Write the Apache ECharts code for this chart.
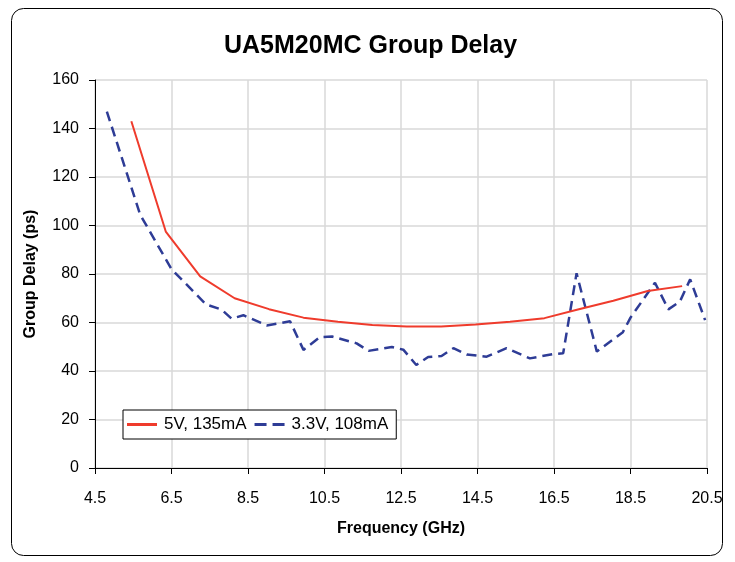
<!DOCTYPE html>
<html>
<head>
<meta charset="utf-8">
<script src="https://cdn.jsdelivr.net/npm/echarts@6/dist/echarts.min.js"></script>
<style>html,body{margin:0;padding:0;background:#fff;}#c{width:735px;height:562px;}</style>
</head>
<body>
<div id="c"></div>
<script>
// Data
const title = 'UA5M20MC Group Delay';
const xName = 'Frequency (GHz)';
const yName = 'Group Delay (ps)';
const seriesNames = ['5V, 135mA', '3.3V, 108mA'];
const xOrigin = 4.5; // first tick label of the frequency axis

const freq5V = [5.45, 6.35, 7.25, 8.15, 9.05, 9.95, 10.85, 11.75, 12.65, 13.55, 14.45, 15.35, 16.25, 17.15, 18.05, 18.95, 19.85];
const delay5V = [143, 97.5, 79, 70, 65.5, 62, 60.3, 59, 58.3, 58.3, 59.2, 60.3, 61.8, 65.5, 69, 73, 75];

const freq33V = [4.81, 5.68, 6.5, 7.4, 7.81, 8.07, 8.38, 8.99, 9.6, 9.95, 10.38, 10.7, 11.34, 11.65, 12.26, 12.56, 12.9, 13.21, 13.56, 13.87, 14.22, 14.74, 15.26, 15.87, 16.48, 16.74, 17.09, 17.62, 18.3, 18.5, 19.14, 19.49, 19.79, 20.06, 20.45];
const delay33V = [147, 104.5, 82, 67.5, 65.3, 61.6, 63, 58.8, 60.5, 48.7, 54, 54.2, 51.4, 48.3, 49.9, 48.8, 42.5, 45.8, 46.2, 49.4, 46.8, 45.9, 49.4, 45.2, 47, 47.3, 80.3, 48, 56, 62, 76.4, 65.4, 68.6, 77.8, 61];

const xTickMin = 0, xTickMax = 16, xTickStep = 2;
const yMin = 0, yMax = 160, yStep = 20;

const pairs = (xs, ys) => xs.map((x, i) => [x - xOrigin, ys[i]]);

const FONT = '"Liberation Sans", Arial, sans-serif';
const RED = '#ef3b2c', BLUE = '#2e3c96';
const chart = echarts.init(document.getElementById('c'), null, {renderer: 'canvas'});
chart.setOption({
  animation: false,
  backgroundColor: '#fff',
  graphic: [{
    type: 'rect', left: 11, top: 8, z: -1,
    shape: {width: 711, height: 547, r: 12},
    style: {fill: '#fff', stroke: '#000', lineWidth: 1}
  }],
  title: {
    text: title, left: 219, top: 29,
    textStyle: {fontFamily: FONT, fontSize: 25, fontWeight: 'bold', color: '#000'}
  },
  legend: {
    left: 123, top: 410,
    orient: 'horizontal',
    backgroundColor: '#fff',
    borderColor: '#000', borderWidth: 1, borderRadius: 0,
    padding: [6, 8, 6, 4],
    itemWidth: 30, itemHeight: 3, itemGap: 8,
    textStyle: {fontFamily: FONT, fontSize: 17, color: '#000', padding: [0, 0, 0, 2]},
    data: [
      {name: seriesNames[0], icon: 'path://M0,0H30V3H0Z', itemStyle: {color: RED}},
      {name: seriesNames[1], icon: 'path://M0,0H12V3H0Z M18,0H30V3H18Z', itemStyle: {color: BLUE}}
    ]
  },
  grid: {left: 95, right: 28, top: 80, bottom: 94, containLabel: false},
  xAxis: {
    type: 'value', min: xTickMin, max: xTickMax, interval: xTickStep,
    name: xName, nameLocation: 'middle', nameGap: 53,
    nameTextStyle: {fontFamily: FONT, fontSize: 16, fontWeight: 'bold', color: '#000'},
    axisLine: {show: true, lineStyle: {color: '#000', width: 1}},
    axisTick: {show: true, length: 6, inside: false, lineStyle: {color: '#000'}},
    axisLabel: {fontFamily: FONT, fontSize: 16, color: '#000', margin: 23,
      formatter: v => (v + xOrigin).toFixed(1)},
    splitLine: {show: true, lineStyle: {color: '#d9d9d9', width: 1.5}}
  },
  yAxis: {
    type: 'value', min: yMin, max: yMax, interval: yStep,
    name: yName, nameLocation: 'middle', nameGap: 56,
    nameTextStyle: {fontFamily: FONT, fontSize: 16, fontWeight: 'bold', color: '#000'},
    axisLine: {show: true, lineStyle: {color: '#000', width: 1}},
    axisTick: {show: true, length: 6, lineStyle: {color: '#000'}},
    axisLabel: {fontFamily: FONT, fontSize: 16, color: '#000', margin: 16},
    splitLine: {show: true, lineStyle: {color: '#d9d9d9', width: 1.5}}
  },
  series: [
    {
      name: seriesNames[0], type: 'line', data: pairs(freq5V, delay5V),
      symbol: 'none', smooth: false,
      lineStyle: {color: RED, width: 2},
      itemStyle: {color: RED}, z: 3
    },
    {
      name: seriesNames[1], type: 'line', data: pairs(freq33V, delay33V),
      symbol: 'none', smooth: false,
      lineStyle: {color: BLUE, width: 2.5, type: [10, 6]},
      itemStyle: {color: BLUE}, z: 2
    }
  ]
});
</script>
</body>
</html>
